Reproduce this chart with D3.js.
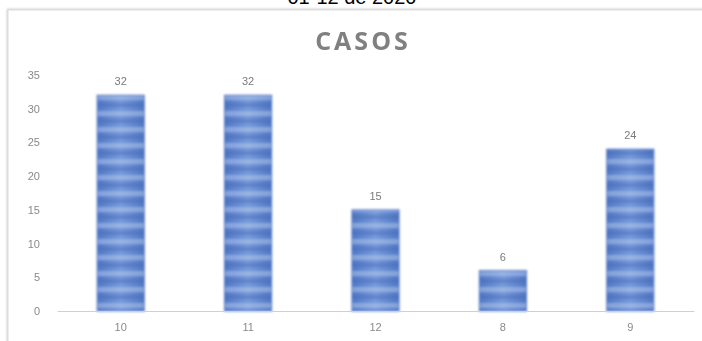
<!DOCTYPE html>
<html>
<head>
<meta charset="utf-8">
<script src="https://cdn.jsdelivr.net/npm/d3@7"></script>
<style>
  html, body { margin: 0; padding: 0; background: #fff; }
  svg { display: block; }
</style>
</head>
<body>
<svg id="chart" width="702" height="341"></svg>
<script>
// Weekly case counts
const categories = ["10", "11", "12", "8", "9"];
const casos = [32, 32, 15, 6, 24];
const yTicks = [0, 5, 10, 15, 20, 25, 30, 35];
const dateLabel = "01-12 de 2020";
const chartTitle = "CASOS";

const svg = d3.select("#chart");

const defs = svg.append("defs");

// Horizontal shading across each bar (darker edges, lighter centre)
const grad = defs.append("linearGradient")
  .attr("id", "barShade").attr("x1", "0").attr("x2", "1").attr("y1", "0").attr("y2", "0");
grad.append("stop").attr("offset", "0%").attr("stop-color", "#5279c6");
grad.append("stop").attr("offset", "50%").attr("stop-color", "#7699da");
grad.append("stop").attr("offset", "100%").attr("stop-color", "#5279c6");

// Horizontal banding pattern, anchored to the baseline
const band = defs.append("pattern")
  .attr("id", "bands").attr("patternUnits", "userSpaceOnUse")
  .attr("width", 10).attr("height", 16)
  .attr("patternTransform", "translate(0,311)");
band.append("rect").attr("width", 10).attr("height", 4).attr("y", 0).attr("fill", "#3b60ad").attr("opacity", 0.3);
band.append("rect").attr("width", 10).attr("height", 5).attr("y", 8).attr("fill", "#c9d9f4").attr("opacity", 0.4);

const soft = defs.append("filter").attr("id", "soft");
soft.append("feGaussianBlur").attr("stdDeviation", 0.6);

const barSoft = defs.append("filter").attr("id", "barSoft");
barSoft.append("feGaussianBlur").attr("stdDeviation", 1);

const shadow = defs.append("filter").attr("id", "frameShadow")
  .attr("x", "-5%").attr("y", "-5%").attr("width", "110%").attr("height", "110%");
shadow.append("feGaussianBlur").attr("stdDeviation", 1.2);

// Date heading, partly above the top edge
svg.append("text")
  .attr("x", 352).attr("y", 4)
  .attr("text-anchor", "middle")
  .attr("font-family", "Liberation Sans, Arial, sans-serif")
  .attr("font-size", 20)
  .attr("fill", "#000")
  .text(dateLabel);

// Chart frame
svg.append("rect")
  .attr("x", 8).attr("y", 10).attr("width", 720).attr("height", 360)
  .attr("fill", "none").attr("stroke", "#cfcfcf").attr("stroke-width", 2.5)
  .attr("filter", "url(#frameShadow)");
svg.append("rect")
  .attr("x", 8).attr("y", 10).attr("width", 720).attr("height", 360)
  .attr("fill", "#fff").attr("stroke", "#dcdcdc").attr("stroke-width", 1);

// Title
svg.append("text")
  .attr("x", 363).attr("y", 50)
  .attr("text-anchor", "middle")
  .attr("font-family", "Open Sans, Liberation Sans, sans-serif")
  .attr("font-weight", "bold")
  .attr("font-size", 25)
  .attr("letter-spacing", 3)
  .attr("fill", "#808080")
  .attr("filter", "url(#soft)")
  .text(chartTitle);

const x = d3.scaleBand()
  .domain(categories)
  .range([57, 694])
  .paddingInner(0.63)
  .paddingOuter(0.315);

const y = d3.scaleLinear()
  .domain([0, 35])
  .range([311, 75]);

const labelFont = "Liberation Sans, Arial, sans-serif";

// Y axis (labels only)
const yAxis = svg.append("g")
  .attr("transform", "translate(40,0)")
  .call(d3.axisLeft(y).tickValues(yTicks).tickSize(0).tickPadding(0));
yAxis.select(".domain").remove();
yAxis.selectAll("text")
  .attr("font-family", labelFont).attr("font-size", 11).attr("fill", "#8a8a8a")
  .attr("filter", "url(#soft)");

// Bars
const bars = svg.append("g").attr("filter", "url(#barSoft)");
bars.selectAll("rect.base")
  .data(casos)
  .join("rect")
  .attr("class", "base")
  .attr("x", (d, i) => x(categories[i]))
  .attr("y", d => y(d))
  .attr("width", x.bandwidth())
  .attr("height", d => y(0) - y(d))
  .attr("fill", "url(#barShade)");
bars.selectAll("rect.bandfill")
  .data(casos)
  .join("rect")
  .attr("class", "bandfill")
  .attr("x", (d, i) => x(categories[i]))
  .attr("y", d => y(d))
  .attr("width", x.bandwidth())
  .attr("height", d => y(0) - y(d))
  .attr("fill", "url(#bands)")
  .attr("stroke", "#5a7cc2")
  .attr("stroke-width", 1);

// X axis
const xAxis = svg.append("g")
  .attr("transform", `translate(0,${y(0)})`)
  .call(d3.axisBottom(x).tickSize(0).tickPadding(12));
xAxis.select(".domain").attr("stroke", "#d0d0d0").attr("stroke-width", 1.2);
xAxis.selectAll("text")
  .attr("font-family", labelFont).attr("font-size", 11).attr("fill", "#8a8a8a")
  .attr("filter", "url(#soft)");

// Value labels
svg.append("g").selectAll("text")
  .data(casos)
  .join("text")
  .attr("x", (d, i) => x(categories[i]) + x.bandwidth() / 2)
  .attr("y", d => y(d) - 10)
  .attr("text-anchor", "middle")
  .attr("font-family", labelFont).attr("font-size", 11).attr("fill", "#7a7a7a")
  .attr("filter", "url(#soft)")
  .text(d => d);
</script>
</body>
</html>
